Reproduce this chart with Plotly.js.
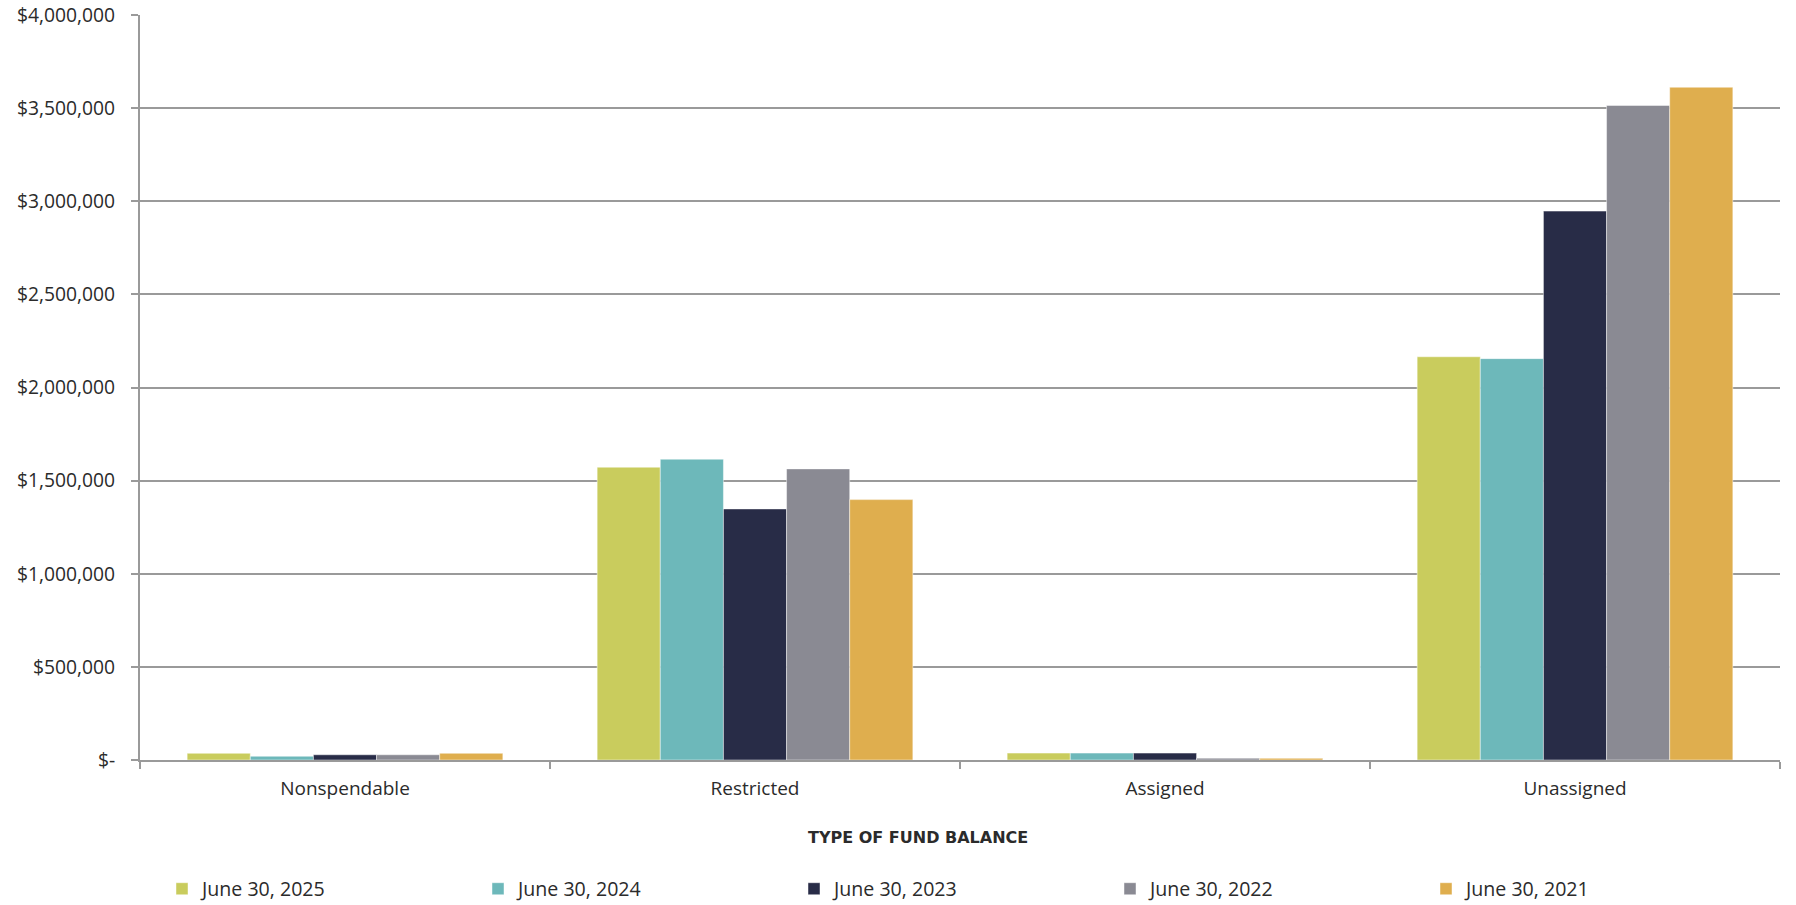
<!DOCTYPE html>
<html>
<head>
<meta charset="utf-8">
<script src="https://cdn.plot.ly/plotly-3.0.1.min.js"></script>
<style>
  html, body { margin: 0; padding: 0; background: #ffffff; }
  #chart { width: 1796px; height: 905px; }
</style>
</head>
<body>
<div id="chart"></div>
<script>
// Fund balance by type, for each fiscal year end
const categories = ["Nonspendable", "Restricted", "Assigned", "Unassigned"];

const seriesNames = ["June 30, 2025", "June 30, 2024", "June 30, 2023", "June 30, 2022", "June 30, 2021"];

const june2025 = [36000, 1572000, 37000, 2165000];
const june2024 = [20000, 1615000, 37000, 2155000];
const june2023 = [28000, 1348000, 37000, 2947000];
const june2022 = [28000, 1563000, 10000, 3514000];
const june2021 = [36000, 1398000, 9000, 3612000];

const seriesValues = [june2025, june2024, june2023, june2022, june2021];
const seriesColors = ["#c9cc5d", "#6db8ba", "#282c47", "#8a8a93", "#dfae4e"];

const yTickVals = [0, 500000, 1000000, 1500000, 2000000, 2500000, 3000000, 3500000, 4000000];
const yTickText = ["$-", "$500,000", "$1,000,000", "$1,500,000", "$2,000,000", "$2,500,000", "$3,000,000", "$3,500,000", "$4,000,000"];

const xTitle = "TYPE OF FUND BALANCE";

const textColor = "#2b2b2b";
const fontFamily = "'Open Sans', 'DejaVu Sans', sans-serif";

const traces = seriesNames.map((name, i) => ({
  type: "bar",
  name: name,
  x: categories,
  y: seriesValues[i],
  marker: {
    color: seriesColors[i],
    line: { color: "rgba(255,255,255,0.45)", width: 1 }
  },
  hoverinfo: "x+y+name"
}));

const plotLeft = 140, plotRight = 16, plotTop = 15, plotBottom = 145;
const plotW = 1796 - plotLeft - plotRight;
const plotH = 905 - plotTop - plotBottom;

const layout = {
  width: 1796,
  height: 905,
  paper_bgcolor: "#ffffff",
  plot_bgcolor: "#ffffff",
  margin: { l: plotLeft, r: plotRight, t: plotTop, b: plotBottom, pad: 0 },
  barmode: "group",
  bargap: 0.23,
  bargroupgap: 0,
  font: { family: fontFamily, size: 19, color: textColor },
  showlegend: true,
  legend: {
    orientation: "h",
    xref: "paper",
    x: 22 / plotW,
    xanchor: "left",
    yref: "container",
    y: 0.0177,
    yanchor: "middle",
    entrywidth: 271,
    entrywidthmode: "pixels",
    traceorder: "normal",
    font: { family: fontFamily, size: 19.6, color: textColor },
    itemwidth: 30,
    bgcolor: "rgba(0,0,0,0)"
  },
  xaxis: {
    type: "category",
    showline: true,
    linecolor: "#9a9a9a",
    linewidth: 2,
    ticks: "outside",
    tickson: "boundaries",
    ticklen: 7,
    tickcolor: "#9a9a9a",
    tickwidth: 1.5,
    showgrid: false,
    zeroline: false,
    ticklabelstandoff: 10,
    tickfont: { family: fontFamily, size: 19, color: textColor },
    fixedrange: true
  },
  yaxis: {
    range: [0, 4000000],
    tickvals: yTickVals,
    ticktext: yTickText,
    showline: true,
    linecolor: "#9a9a9a",
    linewidth: 2,
    ticks: "outside",
    ticklen: 7,
    tickcolor: "#9a9a9a",
    tickwidth: 1.5,
    showgrid: true,
    gridcolor: "#9a9a9a",
    gridwidth: 1.5,
    zeroline: false,
    ticklabelstandoff: 12,
    tickfont: { family: fontFamily, size: 19.3, color: textColor },
    fixedrange: true
  },
  annotations: [{
    text: "<b>" + xTitle + "</b>",
    xref: "paper",
    yref: "paper",
    x: (918 - plotLeft) / plotW,
    y: (plotH + plotTop - 838) / plotH,
    xanchor: "center",
    yanchor: "middle",
    showarrow: false,
    font: { family: "'DejaVu Sans', sans-serif", size: 16, color: textColor }
  }]
};

Plotly.newPlot("chart", traces, layout, { displayModeBar: false });
</script>
</body>
</html>
